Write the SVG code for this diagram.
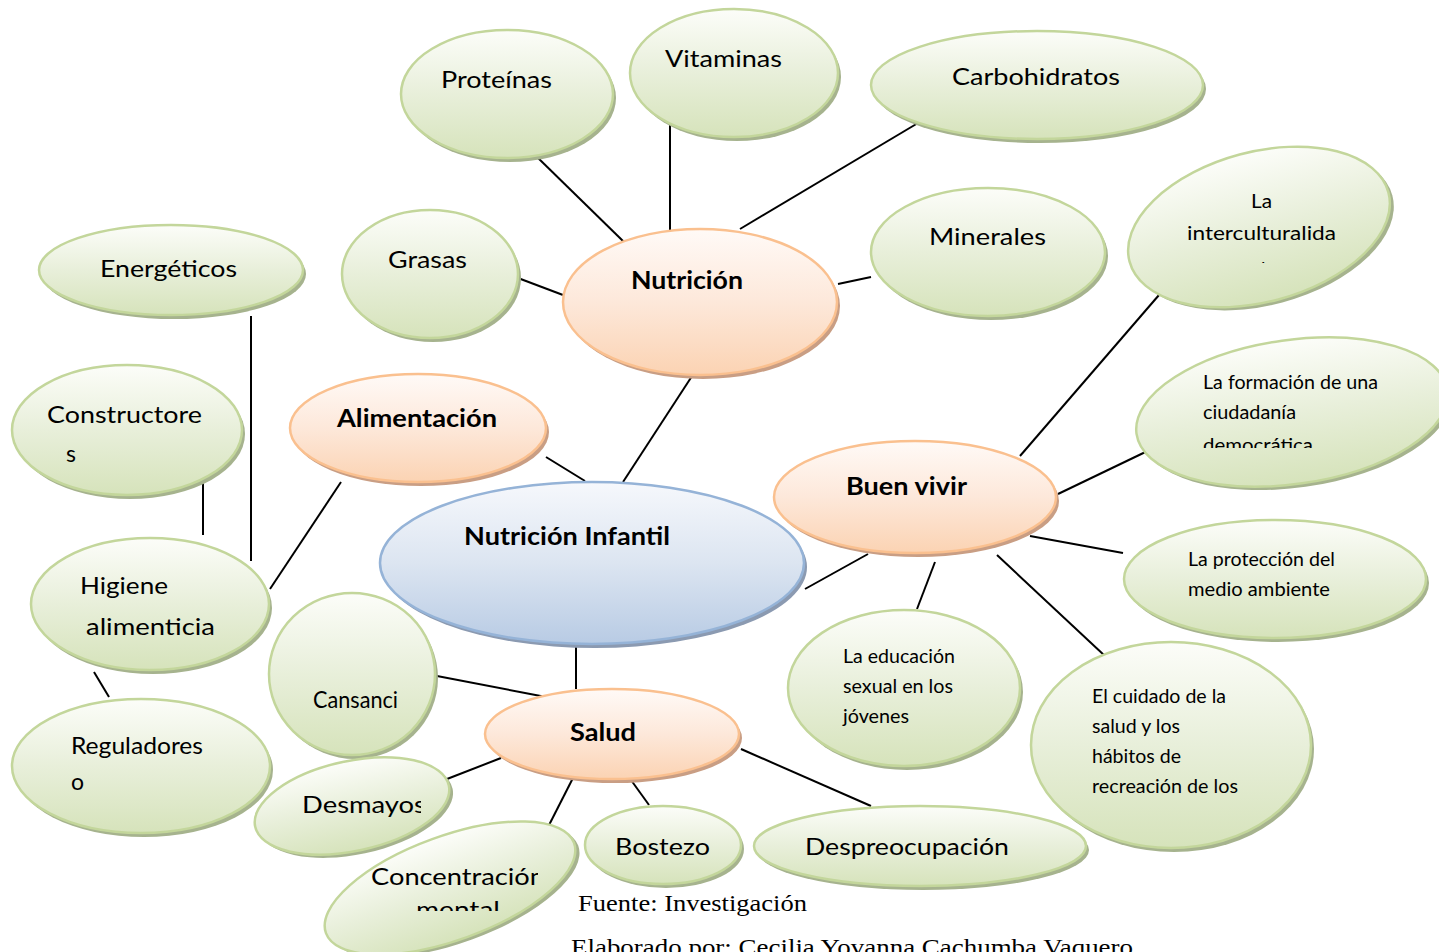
<svg xmlns="http://www.w3.org/2000/svg" width="1439" height="952" viewBox="0 0 1439 952">
<defs>
<linearGradient id="gg" x1="0" y1="0" x2="0" y2="1"><stop offset="0" stop-color="#fcfdf9"/><stop offset="0.5" stop-color="#e8efda"/><stop offset="1" stop-color="#d6e3bb"/></linearGradient>
<linearGradient id="og" x1="0" y1="0" x2="0" y2="1"><stop offset="0" stop-color="#fffaf7"/><stop offset="0.5" stop-color="#fde8da"/><stop offset="1" stop-color="#fbd3b3"/></linearGradient>
<linearGradient id="bg" x1="0" y1="0" x2="0" y2="1"><stop offset="0" stop-color="#f6f8fc"/><stop offset="0.5" stop-color="#dce5f1"/><stop offset="1" stop-color="#b8cbe4"/></linearGradient>
<clipPath id="cD"><rect x="250" y="770" width="171" height="60"/></clipPath>
<clipPath id="cC"><rect x="330" y="850" width="208" height="50"/></clipPath>
<clipPath id="cM"><rect x="380" y="895" width="160" height="16"/></clipPath>
<clipPath id="cDem"><rect x="1190" y="430" width="200" height="18"/></clipPath>
<clipPath id="cd"><rect x="1240" y="250" width="40" height="13"/></clipPath>
</defs>
<style>
.gs{fill:#a6b38e}
.g{fill:url(#gg);stroke:#c3d69b;stroke-width:2.5}
.os{fill:#c99e84}
.o{fill:url(#og);stroke:#fac08f;stroke-width:2.5}
.bs{fill:#8b9ab1}
.b{fill:url(#bg);stroke:#95b3d7;stroke-width:2.5}
.t{font-family:Lato,"Open Sans",sans-serif;fill:#000;font-size:23px}
.tb{font-family:Lato,"Open Sans",sans-serif;fill:#000;font-size:25px;font-weight:bold}
.ts{font-family:Lato,"Open Sans",sans-serif;fill:#000;font-size:18.5px}
.src{font-family:"Liberation Serif",serif;font-size:23px;fill:#000}
#connectors line{stroke:#000;stroke-width:2}
</style>
<rect width="1439" height="952" fill="#fff"/>
<g id="connectors">
<line x1="535" y1="155" x2="624" y2="242"/>
<line x1="670" y1="122" x2="670" y2="230"/>
<line x1="918" y1="123" x2="740" y2="229"/>
<line x1="518" y1="278" x2="563" y2="295"/>
<line x1="838" y1="284" x2="871" y2="277"/>
<line x1="694" y1="373" x2="623" y2="482"/>
<line x1="546" y1="457" x2="585" y2="481"/>
<line x1="251" y1="316" x2="251" y2="561"/>
<line x1="203" y1="482" x2="203" y2="535"/>
<line x1="341" y1="482" x2="270" y2="589"/>
<line x1="94" y1="672" x2="109" y2="697"/>
<line x1="805" y1="589" x2="868" y2="554"/>
<line x1="1020" y1="456" x2="1159" y2="295"/>
<line x1="1058" y1="494" x2="1160" y2="445"/>
<line x1="1030" y1="536" x2="1123" y2="553"/>
<line x1="935" y1="562" x2="917" y2="609"/>
<line x1="997" y1="555" x2="1105" y2="656"/>
<line x1="576" y1="646" x2="576" y2="689"/>
<line x1="437" y1="676" x2="546" y2="697"/>
<line x1="447" y1="779" x2="501" y2="758"/>
<line x1="574" y1="776" x2="546" y2="831"/>
<line x1="631" y1="780" x2="649" y2="805"/>
<line x1="741" y1="749" x2="871" y2="806"/>
</g>
<g id="proteinas"><ellipse class="gs" cx="510" cy="98" rx="106" ry="64"/><ellipse class="g" cx="507" cy="94" rx="106" ry="64"/><text class="t" x="441" y="88" textLength="111" lengthAdjust="spacingAndGlyphs">Proteínas</text></g>
<g id="vitaminas"><ellipse class="gs" cx="737" cy="77" rx="104" ry="64"/><ellipse class="g" cx="734" cy="73" rx="104" ry="64"/><text class="t" x="665" y="67" textLength="117" lengthAdjust="spacingAndGlyphs">Vitaminas</text></g>
<g id="carbohidratos"><ellipse class="gs" cx="1040" cy="89" rx="166" ry="54"/><ellipse class="g" cx="1037" cy="85" rx="166" ry="54"/><text class="t" x="952" y="85" textLength="168" lengthAdjust="spacingAndGlyphs">Carbohidratos</text></g>
<g id="grasas"><ellipse class="gs" cx="433" cy="278" rx="88" ry="64"/><ellipse class="g" cx="430" cy="274" rx="88" ry="64"/><text class="t" x="388" y="268" textLength="79" lengthAdjust="spacingAndGlyphs">Grasas</text></g>
<g id="minerales"><ellipse class="gs" cx="991" cy="256" rx="117" ry="64"/><ellipse class="g" cx="988" cy="252" rx="117" ry="64"/><text class="t" x="929" y="245" textLength="117" lengthAdjust="spacingAndGlyphs">Minerales</text></g>
<g id="nutricion"><ellipse class="os" cx="703" cy="306" rx="137" ry="73"/><ellipse class="o" cx="700" cy="302" rx="137" ry="73"/><text class="tb" x="631" y="289" textLength="112" lengthAdjust="spacingAndGlyphs">Nutrición</text></g>
<g id="energeticos"><ellipse class="gs" cx="174" cy="274" rx="132" ry="45"/><ellipse class="g" cx="171" cy="270" rx="132" ry="45"/><text class="t" x="100" y="277" textLength="137" lengthAdjust="spacingAndGlyphs">Energéticos</text></g>
<g id="constructores"><ellipse class="gs" cx="130" cy="434" rx="115" ry="65"/><ellipse class="g" cx="127" cy="430" rx="115" ry="65"/><text class="t" x="47" y="423" textLength="155" lengthAdjust="spacingAndGlyphs">Constructore</text><text class="t" x="66" y="462">s</text></g>
<g id="alimentacion"><ellipse class="os" cx="421" cy="432" rx="128" ry="54"/><ellipse class="o" cx="418" cy="428" rx="128" ry="54"/><text class="tb" x="337" y="427" textLength="160" lengthAdjust="spacingAndGlyphs">Alimentación</text></g>
<g id="nutricion-infantil"><ellipse class="bs" cx="595" cy="567" rx="212" ry="81"/><ellipse class="b" cx="592" cy="563" rx="212" ry="81"/><text class="tb" x="464" y="545" textLength="206" lengthAdjust="spacingAndGlyphs">Nutrición Infantil</text></g>
<g id="buen-vivir"><ellipse class="os" cx="918" cy="501" rx="141" ry="56"/><ellipse class="o" cx="915" cy="497" rx="141" ry="56"/><text class="tb" x="846" y="495" textLength="121" lengthAdjust="spacingAndGlyphs">Buen vivir</text></g>
<g id="interculturalidad"><g transform="translate(1259 227) rotate(-15)"><ellipse class="gs" cx="3" cy="4" rx="134" ry="75"/><ellipse class="g" cx="0" cy="0" rx="134" ry="75"/></g><text class="ts" x="1251" y="208" textLength="21" lengthAdjust="spacingAndGlyphs">La</text><text class="ts" x="1187" y="240" textLength="149" lengthAdjust="spacingAndGlyphs">interculturalida</text><text class="ts" x="1255" y="276" clip-path="url(#cd)">d</text></g>
<g id="formacion"><g transform="translate(1292 412) rotate(-8)"><ellipse class="gs" cx="3" cy="4" rx="157" ry="72"/><ellipse class="g" cx="0" cy="0" rx="157" ry="72"/></g><text class="ts" x="1203" y="389" textLength="175" lengthAdjust="spacingAndGlyphs">La formación de una</text><text class="ts" x="1203" y="419" textLength="93" lengthAdjust="spacingAndGlyphs">ciudadanía</text><text class="ts" x="1203" y="452" textLength="110" lengthAdjust="spacingAndGlyphs" clip-path="url(#cDem)">democrática</text></g>
<g id="proteccion"><ellipse class="gs" cx="1278" cy="583" rx="151" ry="59"/><ellipse class="g" cx="1275" cy="579" rx="151" ry="59"/><text class="ts" x="1188" y="566" textLength="147" lengthAdjust="spacingAndGlyphs">La protección del</text><text class="ts" x="1188" y="596" textLength="142" lengthAdjust="spacingAndGlyphs">medio ambiente</text></g>
<g id="higiene"><ellipse class="gs" cx="153" cy="608" rx="119" ry="66"/><ellipse class="g" cx="150" cy="604" rx="119" ry="66"/><text class="t" x="80" y="594" font-size="25" textLength="88" lengthAdjust="spacingAndGlyphs">Higiene</text><text class="t" x="86" y="635" font-size="25" textLength="129" lengthAdjust="spacingAndGlyphs">alimenticia</text></g>
<g id="educacion"><ellipse class="gs" cx="907" cy="692" rx="116" ry="78"/><ellipse class="g" cx="904" cy="688" rx="116" ry="78"/><text class="ts" x="843" y="663" textLength="112" lengthAdjust="spacingAndGlyphs">La educación</text><text class="ts" x="843" y="693" textLength="110" lengthAdjust="spacingAndGlyphs">sexual en los</text><text class="ts" x="843" y="723" textLength="66" lengthAdjust="spacingAndGlyphs">jóvenes</text></g>
<g id="cuidado"><ellipse class="gs" cx="1174" cy="749" rx="140" ry="103"/><ellipse class="g" cx="1171" cy="745" rx="140" ry="103"/><text class="ts" x="1092" y="703" textLength="134" lengthAdjust="spacingAndGlyphs">El cuidado de la</text><text class="ts" x="1092" y="733" textLength="88" lengthAdjust="spacingAndGlyphs">salud y los</text><text class="ts" x="1092" y="763" textLength="89" lengthAdjust="spacingAndGlyphs">hábitos de</text><text class="ts" x="1092" y="793" textLength="146" lengthAdjust="spacingAndGlyphs">recreación de los</text></g>
<g id="cansancio"><ellipse class="gs" cx="355" cy="678" rx="83" ry="81"/><ellipse class="g" cx="352" cy="674" rx="83" ry="81"/><text class="t" x="313" y="708" font-size="21" textLength="85" lengthAdjust="spacingAndGlyphs">Cansanci</text></g>
<g id="salud"><ellipse class="os" cx="615" cy="738" rx="127" ry="45"/><ellipse class="o" cx="612" cy="734" rx="127" ry="45"/><text class="tb" x="570" y="741" textLength="66" lengthAdjust="spacingAndGlyphs">Salud</text></g>
<g id="reguladores"><ellipse class="gs" cx="144" cy="770" rx="129" ry="67"/><ellipse class="g" cx="141" cy="766" rx="129" ry="67"/><text class="t" x="71" y="754" textLength="132" lengthAdjust="spacingAndGlyphs">Reguladores</text><text class="t" x="71" y="790">o</text></g>
<g id="desmayos"><g transform="translate(352 806) rotate(-12)"><ellipse class="gs" cx="3" cy="4" rx="99" ry="45"/><ellipse class="g" cx="0" cy="0" rx="99" ry="45"/></g><text class="t" x="302" y="813" font-size="24" textLength="124" lengthAdjust="spacingAndGlyphs" clip-path="url(#cD)">Desmayos</text></g>
<g id="concentracion"><g transform="translate(450 888) rotate(-20)"><ellipse class="gs" cx="3" cy="4" rx="132" ry="52"/><ellipse class="g" cx="0" cy="0" rx="132" ry="52"/></g><text class="t" x="371" y="885" font-size="24" textLength="174" lengthAdjust="spacingAndGlyphs" clip-path="url(#cC)">Concentración</text><text class="t" x="416" y="918" font-size="24" textLength="84" lengthAdjust="spacingAndGlyphs" clip-path="url(#cM)">mental</text></g>
<g id="bostezo"><ellipse class="gs" cx="666" cy="849" rx="78" ry="39"/><ellipse class="g" cx="663" cy="845" rx="78" ry="39"/><text class="t" x="615" y="855" font-size="24" textLength="95" lengthAdjust="spacingAndGlyphs">Bostezo</text></g>
<g id="despreocupacion"><ellipse class="gs" cx="923" cy="850" rx="166" ry="40"/><ellipse class="g" cx="920" cy="846" rx="166" ry="40"/><text class="t" x="805" y="855" font-size="24" textLength="204" lengthAdjust="spacingAndGlyphs">Despreocupación</text></g>
<g id="source"><text class="src" x="578" y="911" textLength="229" lengthAdjust="spacingAndGlyphs">Fuente: Investigación</text><text class="src" x="571" y="955" textLength="562" lengthAdjust="spacingAndGlyphs">Elaborado por: Cecilia Yovanna Cachumba Vaquero</text></g>
</svg>
